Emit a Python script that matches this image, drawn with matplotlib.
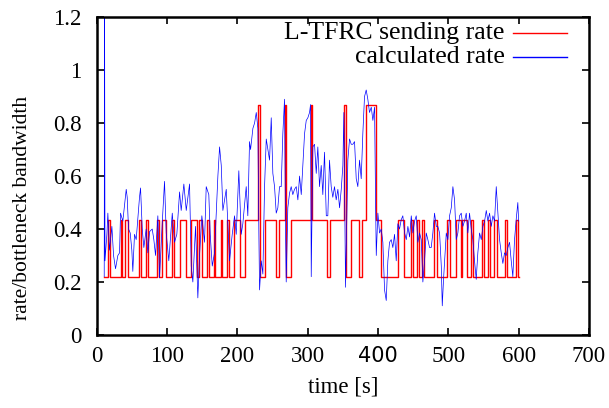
import matplotlib
matplotlib.use("Agg")
import matplotlib.pyplot as plt
from matplotlib.ticker import FuncFormatter

# rate levels of the L-TFRC sender (fraction of bottleneck bandwidth)
LOW, MID, HIGH = 0.2175, 0.435, 0.87

# L-TFRC sending rate: change times [s] and level after each change
red_t = [9.5, 15.6, 18.1, 33.7, 35.6, 39.4, 44.7, 59.8, 62.6, 70.3, 72.6, 85.4, 88.2, 93.0,
         98.7, 106.7, 109.5, 118.7, 127.2, 134.3, 142.3, 145.1, 150.0, 156.5, 158.9, 166.5,
         168.4, 176.0, 177.8, 185.0, 187.4, 194.5, 203.0, 210.1, 229.1, 231.9, 239.6, 254.7,
         258.9, 267.0, 269.5, 275.6, 305.0, 306.4, 327.2, 332.1, 351.4, 354.8, 361.9, 372.7,
         377.6, 382.3, 396.5, 403.6, 427.8, 436.3, 446.3, 449.1, 454.8, 457.7, 462.9, 464.8,
         479.0, 483.3, 498.5, 501.8, 511.3, 517.4, 519.9, 526.0, 532.7, 534.5, 548.3, 550.2,
         556.3, 558.7, 564.8, 568.7, 580.0, 582.9, 596.7, 599.5, 600.0]
red_v = [LOW, MID, LOW, MID, LOW, MID, LOW, MID, LOW, MID, LOW, MID, LOW, MID,
         LOW, MID, LOW, MID, LOW, MID, LOW, MID, LOW, MID, LOW, MID,
         LOW, MID, LOW, MID, LOW, MID, LOW, MID, HIGH, LOW, MID, LOW,
         MID, HIGH, LOW, MID, HIGH, MID, LOW, MID, HIGH, LOW, MID, LOW,
         MID, HIGH, MID, LOW, MID, LOW, MID, LOW, MID, LOW, MID, LOW,
         MID, LOW, MID, LOW, MID, LOW, MID, LOW, MID, LOW, MID, LOW,
         MID, LOW, MID, LOW, MID, LOW, MID, LOW, LOW]

# calculated rate
blue_t = [10.5, 11.0, 11.6, 12.4, 14.3, 15.7, 18.0, 21.4, 23.8, 26.6, 29.9, 32.3, 33.7, 37.0,
          39.8, 41.8, 43.2, 45.1, 47.5, 49.8, 51.2, 53.6, 56.0, 58.4, 60.7, 62.2, 64.6, 66.9,
          70.2, 72.6, 75.0, 78.8, 81.1, 83.5, 86.8, 89.2, 93.0, 96.3, 98.7, 102.4, 107.3, 110.5,
          113.8, 117.7, 120.0, 123.8, 127.2, 131.9, 134.3, 136.6, 140.4, 143.7, 146.1, 149.4,
          153.2, 155.6, 159.3, 161.3, 164.2, 167.4, 169.9, 172.2, 174.6, 177.0, 179.3, 184.1,
          188.8, 192.6, 195.9, 198.3, 202.0, 205.4, 207.7, 212.5, 214.8, 217.2, 218.7, 222.0,
          224.4, 226.8, 229.1, 230.5, 231.5, 233.9, 236.2, 238.6, 241.0, 243.3, 245.7, 248.1,
          250.4, 252.8, 255.2, 257.5, 259.9, 262.3, 264.6, 267.0, 268.5, 269.4, 271.7, 274.1,
          276.5, 278.8, 281.2, 283.7, 286.0, 288.4, 290.8, 293.1, 295.5, 297.9, 300.2, 302.6,
          304.0, 305.0, 307.3, 309.7, 312.1, 314.4, 316.8, 319.2, 321.5, 323.9, 326.4, 328.6,
          331.0, 333.4, 335.7, 338.1, 340.5, 342.9, 345.3, 347.7, 350.0, 351.4, 353.8, 355.7,
          357.1, 359.5, 361.9, 364.2, 366.6, 369.0, 371.3, 373.7, 376.1, 378.4, 380.8, 383.2,
          385.5, 387.9, 390.4, 392.7, 395.1, 396.5, 397.5, 399.8, 402.2, 404.6, 406.9, 409.3,
          411.7, 414.0, 416.4, 418.8, 421.1, 423.5, 425.9, 428.2, 430.6, 433.0, 435.3, 437.8,
          440.2, 442.5, 444.9, 447.3, 449.6, 452.0, 454.4, 456.7, 459.1, 461.5, 463.8, 466.2,
          468.6, 470.9, 473.3, 475.7, 478.0, 480.4, 482.9, 485.1, 487.6, 490.0, 491.4, 493.2,
          494.7, 497.1, 499.4, 501.8, 504.2, 506.5, 508.9, 511.3, 513.6, 516.0, 518.4, 520.7,
          523.1, 525.5, 527.8, 530.2, 532.6, 534.9, 537.3, 539.7, 542.0, 544.5, 546.9, 549.2,
          551.6, 554.0, 556.3, 558.7, 561.1, 563.4, 565.8, 568.2, 570.5, 572.9, 575.3, 577.6,
          580.0, 582.4, 584.7, 587.1, 589.5, 591.8, 594.2, 596.7, 598.9, 600.0]
blue_v = [0.22, 1.30, 0.28, 0.31, 0.38, 0.46, 0.32, 0.41, 0.30, 0.25, 0.30, 0.31, 0.46, 0.43,
          0.50, 0.55, 0.52, 0.40, 0.385, 0.32, 0.24, 0.38, 0.36, 0.44, 0.52, 0.555, 0.40, 0.33,
          0.40, 0.31, 0.39, 0.40, 0.36, 0.30, 0.45, 0.216, 0.42, 0.58, 0.385, 0.28, 0.46, 0.35,
          0.38, 0.54, 0.47, 0.57, 0.47, 0.57, 0.26, 0.20, 0.41, 0.14, 0.30, 0.45,
          0.35, 0.56, 0.53, 0.38, 0.26, 0.31, 0.46, 0.60, 0.71, 0.64, 0.47, 0.55,
          0.28, 0.38, 0.45, 0.38, 0.62, 0.38, 0.42, 0.56, 0.45, 0.73, 0.70, 0.78,
          0.80, 0.84, 0.78, 0.385, 0.17, 0.28, 0.23, 0.56, 0.74, 0.70, 0.66, 0.82,
          0.61, 0.56, 0.46, 0.48, 0.56, 0.56, 0.76, 0.89, 0.385, 0.20, 0.48, 0.535,
          0.56, 0.53, 0.55, 0.56, 0.51, 0.60, 0.53, 0.64, 0.76, 0.81, 0.82, 0.84,
          0.87, 0.22, 0.71, 0.72, 0.61, 0.71, 0.56, 0.64, 0.53, 0.69, 0.45, 0.45,
          0.66, 0.56, 0.52, 0.56, 0.51, 0.55, 0.48, 0.55, 0.64, 0.84, 0.18, 0.45,
          0.66, 0.74, 0.72, 0.72, 0.73, 0.59, 0.56, 0.66, 0.59, 0.76, 0.90, 0.925,
          0.89, 0.84, 0.86, 0.81, 0.86, 0.51, 0.30, 0.46, 0.385, 0.40, 0.35, 0.17,
          0.13, 0.28, 0.35, 0.36, 0.33, 0.38, 0.28, 0.42, 0.40, 0.435, 0.45, 0.385,
          0.36, 0.41, 0.37, 0.45, 0.385, 0.43, 0.45, 0.35, 0.385, 0.36, 0.20, 0.28,
          0.385, 0.36, 0.33, 0.33, 0.385, 0.46, 0.41, 0.41, 0.385, 0.26, 0.11, 0.21,
          0.28, 0.385, 0.36, 0.45, 0.48, 0.56, 0.51, 0.36, 0.385, 0.45, 0.46, 0.41,
          0.43, 0.46, 0.385, 0.46, 0.40, 0.36, 0.28, 0.21, 0.31, 0.385, 0.36, 0.41,
          0.43, 0.47, 0.43, 0.46, 0.41, 0.45, 0.43, 0.56, 0.46, 0.36, 0.31, 0.27,
          0.31, 0.30, 0.33, 0.35, 0.28, 0.22, 0.36, 0.44, 0.50, 0.43]

x_ticks = [0, 100, 200, 300, 400, 500, 600, 700]
y_ticks = [0, 0.2, 0.4, 0.6, 0.8, 1.0, 1.2]

plt.rcParams['font.family'] = ['Liberation Serif', 'DejaVu Serif']
plt.rcParams['font.size'] = 16.5

fig = plt.figure(figsize=(6.09, 4.08), dpi=100)
ax = fig.add_axes([0.159, 0.179, 0.808, 0.779])

ax.step(red_t, red_v, where='post', color='red', lw=1.0)
ax.plot(blue_t, blue_v, color='blue', lw=0.5)

ax.set_xlim(0, 700)
ax.set_ylim(0, 1.2)
ax.set_xticks(x_ticks)
ax.set_yticks(y_ticks)
ax.yaxis.set_major_formatter(FuncFormatter(lambda v, p: '%g' % v))
ax.tick_params(direction='in', length=5, width=1.2, top=True, right=True)
ax.tick_params(axis='x', pad=8)
ax.tick_params(axis='y', pad=11)
for s in ax.spines.values():
    s.set_linewidth(1.8)

# the 400 label in the original came out in a sans font
for lab in ax.get_xticklabels():
    if lab.get_text() == '400':
        lab.set_family('DejaVu Sans')
        lab.set_fontsize(15)

ax.set_xlabel('time [s]', labelpad=7)
ax.set_ylabel('rate/bottleneck bandwidth', fontsize=15.5)
ax.yaxis.set_label_coords(-0.132, 0.40)

# gnuplot-style key: right aligned text, sample line to the right
key = [('L-TFRC sending rate', 'red'), ('calculated rate', 'blue')]
for i, (label, col) in enumerate(key):
    y = 0.95 - i * 0.076
    ax.text(0.829, y, label, ha='right', va='center', fontsize=18.5,
            transform=ax.transAxes)
    ax.plot([0.846, 0.955], [y, y], color=col, lw=1.0, transform=ax.transAxes)

fig.savefig('out.png', dpi=100)
